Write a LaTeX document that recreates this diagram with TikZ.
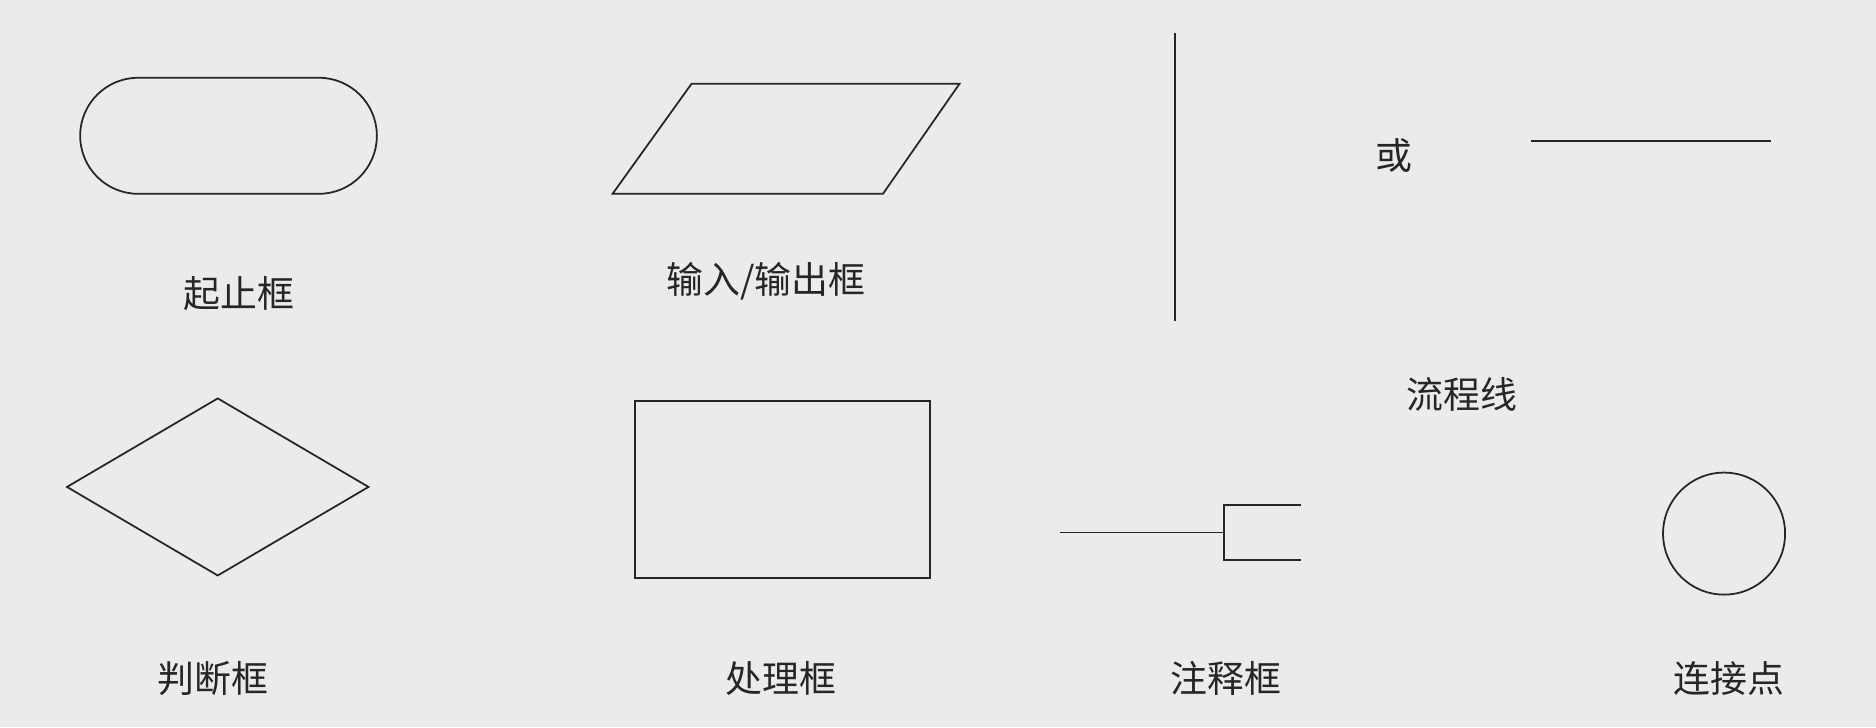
\documentclass[tikz,border=0pt]{standalone}
\usepackage{fontspec}
\setmainfont{Noto Sans CJK SC}
\usetikzlibrary{shapes.geometric}
\begin{document}
\begin{tikzpicture}[x=0.02393cm,y=-0.02393cm,
  shp/.style={draw=black!85,line width=1pt},
  lbl/.style={font=\fontsize{21}{24}\selectfont,text=black!85}]
\fill[black!8] (0,0) rectangle (1568,608);
\useasboundingbox (0,0) rectangle (1568,608);
% terminal
\draw[shp,rounded corners=48.5*0.02393cm] (67,65) rectangle (315,162);
\node[lbl] (t1) at (200,245) {起止框};
% io
\draw[shp] (578,70) -- (802,70) -- (738,162) -- (512,162) -- cycle;
\node[lbl] (t2) at (640,235) {输入/输出框};
% flow lines
\coordinate (va) at (982,28); \coordinate (vb) at (982,268);
\draw[shp] (va) -- (vb);
\node[lbl] (t3) at (1165,130) {或};
\coordinate (ha) at (1280,118); \coordinate (hb) at (1480,118);
\draw[shp] (ha) -- (hb);
\node[lbl] (t4) at (1222,330) {流程线};
% decision
\draw[shp] (56,407) -- (182,333) -- (308,407) -- (182,481) -- cycle;
\node[lbl] (t5) at (178,567) {判断框};
% process
\draw[shp] (531,335) rectangle (777,483);
\node[lbl] (t6) at (653,567) {处理框};
% annotation
\coordinate (aa) at (886,445); \coordinate (ab) at (1023,445);
\draw[shp] (aa) -- (ab);
\draw[shp] (1087,422) -- (1023,422) -- (1023,468) -- (1087,468);
\node[lbl] (t7) at (1025,567) {注释框};
% connector
\node[shp,circle,minimum size=102*0.02393cm,inner sep=0pt] (c) at (1441,446) {};
\node[lbl] (t8) at (1445,567) {连接点};
\end{tikzpicture}
\end{document}
